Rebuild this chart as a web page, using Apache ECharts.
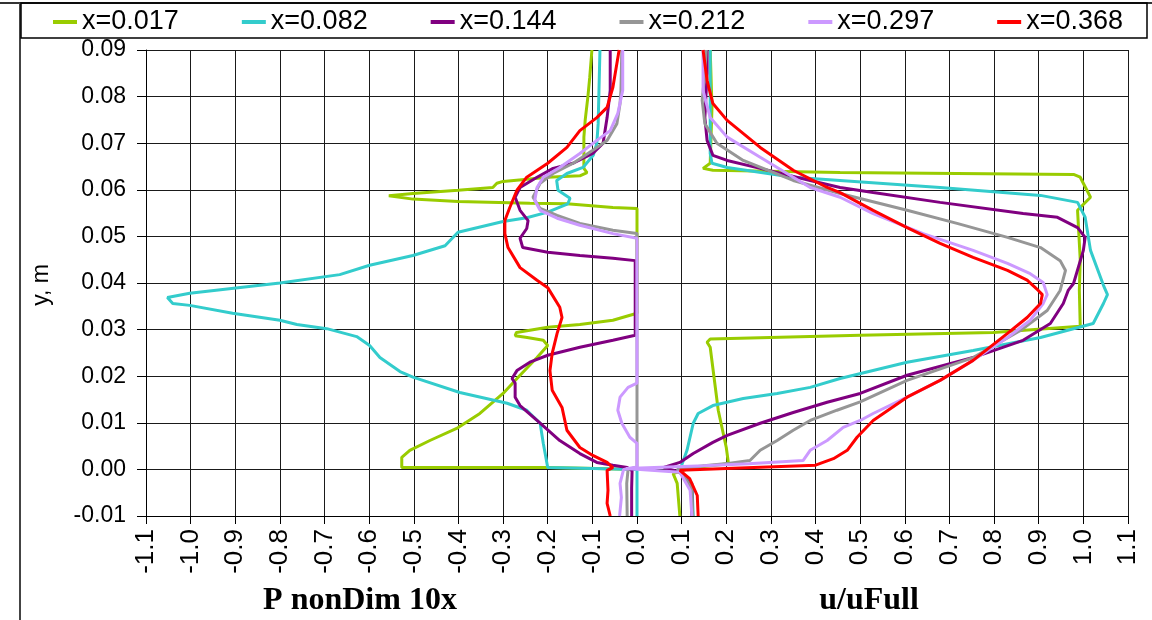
<!DOCTYPE html>
<html>
<head>
<meta charset="utf-8">
<script src="https://cdn.jsdelivr.net/npm/echarts@6/dist/echarts.min.js"></script>
<style>
html,body{margin:0;padding:0;background:#fff;}
#chart{width:1152px;height:620px;}
</style>
</head>
<body>
<div id="chart"></div>
<script>
// ---- data ----
var seriesNames = ['x=0.017','x=0.082','x=0.144','x=0.212','x=0.297','x=0.368'];
var seriesColors = ['#99CC00','#33CCCC','#800080','#969696','#CC99FF','#FF0000'];
var xTickLabels = ['-1.1','-1.0','-0.9','-0.8','-0.7','-0.6','-0.5','-0.4','-0.3','-0.2','-0.1','0.0','0.1','0.2','0.3','0.4','0.5','0.6','0.7','0.8','0.9','1.0','1.1'];
var yTickLabels = ['-0.01','0.00','0.01','0.02','0.03','0.04','0.05','0.06','0.07','0.08','0.09'];

// pressure branches [P nonDim 10x, y]
var p017 = [[-0.101,0.090],[-0.106,0.084],[-0.110,0.080],[-0.116,0.075],[-0.119,0.0713],[-0.119,0.0646],[-0.112,0.0637],[-0.128,0.063],[-0.200,0.0627],[-0.240,0.0623],[-0.300,0.0618],[-0.314,0.0614],[-0.323,0.0605],[-0.401,0.0599],[-0.502,0.0592],[-0.556,0.0587],[-0.502,0.058],[-0.401,0.0575],[-0.240,0.0571],[-0.157,0.057],[-0.054,0.0562],[0,0.056],[0,0.0335],[-0.054,0.032],[-0.128,0.0311],[-0.200,0.0305],[-0.270,0.0294],[-0.273,0.0287],[-0.246,0.0283],[-0.210,0.0277],[-0.200,0.0266],[-0.224,0.024],[-0.262,0.0202],[-0.300,0.0163],[-0.352,0.012],[-0.404,0.0088],[-0.464,0.0062],[-0.509,0.0041],[-0.527,0.0026],[-0.527,0.0004],[-0.200,0.0004],[-0.090,0.0002],[0,0]];
var p082 = [[-0.083,0.090],[-0.087,0.0742],[-0.090,0.070],[-0.098,0.0674],[-0.121,0.0648],[-0.157,0.0635],[-0.180,0.062],[-0.177,0.0599],[-0.150,0.0582],[-0.155,0.057],[-0.200,0.0552],[-0.247,0.054],[-0.300,0.0532],[-0.401,0.0509],[-0.430,0.048],[-0.502,0.0459],[-0.599,0.0438],[-0.666,0.0418],[-0.800,0.040],[-1.002,0.0378],[-1.052,0.0369],[-1.040,0.0356],[-1.002,0.0352],[-0.906,0.0335],[-0.800,0.032],[-0.762,0.0311],[-0.695,0.0302],[-0.628,0.0285],[-0.599,0.0266],[-0.576,0.024],[-0.531,0.021],[-0.502,0.0198],[-0.397,0.0165],[-0.291,0.0142],[-0.247,0.0127],[-0.217,0.0099],[-0.210,0.0056],[-0.200,0.0004],[-0.099,0.0002],[0,0],[0,-0.010]];
var p144 = [[-0.060,0.090],[-0.060,0.0813],[-0.067,0.0755],[-0.076,0.070],[-0.099,0.0678],[-0.143,0.0657],[-0.188,0.0646],[-0.224,0.0627],[-0.262,0.0605],[-0.273,0.0584],[-0.262,0.0556],[-0.244,0.0534],[-0.247,0.0517],[-0.262,0.0496],[-0.256,0.0476],[-0.200,0.0466],[-0.128,0.0459],[-0.054,0.0453],[-0.004,0.0448],[-0.004,0.0288],[-0.054,0.0277],[-0.128,0.0262],[-0.200,0.0245],[-0.240,0.023],[-0.269,0.0212],[-0.280,0.0195],[-0.273,0.0185],[-0.273,0.0155],[-0.262,0.0137],[-0.224,0.0105],[-0.173,0.0062],[-0.128,0.0034],[-0.090,0.0015],[-0.054,0.0009],[-0.022,0.0004],[-0.011,-0.0003],[-0.012,-0.004],[-0.012,-0.010]];
var p212 = [[-0.034,0.090],[-0.036,0.0813],[-0.038,0.0785],[-0.045,0.0742],[-0.067,0.0706],[-0.099,0.0685],[-0.143,0.0657],[-0.188,0.0635],[-0.217,0.0614],[-0.233,0.0584],[-0.217,0.056],[-0.179,0.0545],[-0.128,0.0528],[-0.054,0.0513],[0,0.0506],[0,0.0055],[0,0.0005],[-0.020,0],[-0.023,-0.003],[-0.022,-0.010]];
var p297 = [[-0.032,0.090],[-0.032,0.0813],[-0.043,0.0764],[-0.060,0.0727],[-0.090,0.0706],[-0.128,0.0678],[-0.173,0.0648],[-0.210,0.0627],[-0.224,0.0605],[-0.229,0.0577],[-0.217,0.0556],[-0.179,0.0539],[-0.128,0.0524],[-0.054,0.0506],[0,0.0496],[0,0.0185],[-0.020,0.0176],[-0.038,0.0155],[-0.043,0.0127],[-0.034,0.0099],[-0.016,0.0069],[0,0.0056],[0,0.0005],[-0.030,0],[-0.038,-0.003],[-0.035,-0.006],[-0.039,-0.010]];
var p368 = [[-0.040,0.090],[-0.054,0.082],[-0.067,0.0777],[-0.090,0.0755],[-0.128,0.0727],[-0.157,0.0691],[-0.200,0.0657],[-0.247,0.0627],[-0.269,0.0599],[-0.285,0.0562],[-0.296,0.0534],[-0.296,0.0506],[-0.289,0.0476],[-0.262,0.0433],[-0.224,0.0406],[-0.200,0.039],[-0.173,0.0348],[-0.168,0.0326],[-0.179,0.0292],[-0.190,0.0249],[-0.195,0.0212],[-0.190,0.017],[-0.168,0.0133],[-0.157,0.0084],[-0.128,0.0047],[-0.099,0.003],[-0.067,0.0015],[-0.054,0.0004],[-0.067,-0.0002],[-0.065,-0.0045],[-0.067,-0.0073],[-0.060,-0.010]];

// velocity branches [u/uFull, y]
var u017 = [[0.096,-0.010],[0.090,-0.003],[0.081,-0.0009],[0.120,0.0003],[0.205,0.0012],[0.200,0.0047],[0.182,0.0127],[0.164,0.0262],[0.157,0.0273],[0.164,0.028],[0.500,0.0288],[0.798,0.0294],[0.993,0.0307],[0.991,0.0384],[0.993,0.045],[0.987,0.0556],[1.016,0.0584],[0.993,0.0627],[0.978,0.0633],[0.455,0.0637],[0.170,0.0642],[0.148,0.0646],[0.164,0.0657],[0.168,0.0777],[0.164,0.090]];
var u082 = [[0.126,-0.010],[0.123,-0.003],[0.108,-0.0017],[0.096,-0.0002],[0.112,0.0041],[0.126,0.0099],[0.137,0.012],[0.170,0.0137],[0.238,0.0152],[0.314,0.0163],[0.388,0.0176],[0.455,0.0195],[0.605,0.023],[0.753,0.0255],[0.904,0.0283],[1.022,0.0313],[1.045,0.0356],[1.054,0.0375],[1.045,0.0395],[1.016,0.047],[1.004,0.0541],[0.987,0.0573],[0.904,0.0588],[0.679,0.0605],[0.455,0.062],[0.350,0.0627],[0.202,0.0648],[0.168,0.0657],[0.164,0.0678],[0.164,0.085],[0.164,0.090]];
var u144 = [[0.123,-0.010],[0.123,-0.0045],[0.112,-0.0024],[0.096,-0.0006],[0.060,0.0004],[0.096,0.0015],[0.126,0.0034],[0.170,0.0058],[0.202,0.0073],[0.276,0.0099],[0.350,0.0122],[0.426,0.0144],[0.500,0.0163],[0.605,0.0202],[0.753,0.024],[0.865,0.0277],[0.926,0.0313],[0.955,0.0356],[0.966,0.0384],[0.978,0.0399],[1.000,0.047],[1.004,0.0498],[0.987,0.0519],[0.942,0.0541],[0.865,0.0549],[0.679,0.0573],[0.529,0.0594],[0.455,0.0605],[0.388,0.062],[0.276,0.0646],[0.202,0.0663],[0.170,0.0674],[0.157,0.0706],[0.152,0.0755],[0.157,0.085],[0.157,0.090]];
var u212 = [[0.125,-0.010],[0.122,-0.004],[0.105,-0.0015],[0.090,0.0001],[0.150,0.0008],[0.208,0.0013],[0.253,0.0019],[0.276,0.0041],[0.314,0.0062],[0.350,0.0084],[0.388,0.0105],[0.448,0.0127],[0.500,0.0145],[0.605,0.0191],[0.753,0.024],[0.859,0.0298],[0.919,0.0341],[0.948,0.0384],[0.960,0.0427],[0.948,0.0448],[0.904,0.0476],[0.830,0.0498],[0.717,0.0528],[0.605,0.0556],[0.455,0.0592],[0.350,0.062],[0.238,0.0663],[0.179,0.070],[0.152,0.0742],[0.146,0.0792],[0.152,0.085],[0.155,0.090]];
var u297 = [[0.123,-0.010],[0.119,-0.0045],[0.096,-0.0006],[-0.025,0.0002],[0.150,0.0008],[0.250,0.0012],[0.372,0.0019],[0.388,0.0041],[0.426,0.0062],[0.462,0.009],[0.500,0.0105],[0.529,0.012],[0.605,0.0155],[0.679,0.0191],[0.753,0.0234],[0.830,0.0283],[0.881,0.032],[0.910,0.0356],[0.919,0.0375],[0.910,0.0401],[0.881,0.042],[0.830,0.0442],[0.753,0.047],[0.641,0.0506],[0.529,0.0549],[0.455,0.0584],[0.388,0.0605],[0.276,0.067],[0.202,0.0713],[0.164,0.0755],[0.148,0.0813],[0.148,0.090]];
var u368 = [[0.137,-0.010],[0.135,-0.0056],[0.118,-0.002],[0.096,-0.0002],[0.200,0.0002],[0.400,0.0009],[0.440,0.0023],[0.471,0.0041],[0.493,0.0069],[0.529,0.0105],[0.605,0.0155],[0.679,0.0191],[0.753,0.0234],[0.830,0.0292],[0.874,0.0326],[0.904,0.0356],[0.908,0.0375],[0.899,0.0384],[0.874,0.0406],[0.830,0.0427],[0.753,0.0455],[0.679,0.0485],[0.605,0.0519],[0.529,0.0556],[0.455,0.0594],[0.426,0.0605],[0.350,0.0642],[0.276,0.0691],[0.202,0.0749],[0.170,0.0785],[0.157,0.0835],[0.148,0.090]];

var pressureData = [p017,p082,p144,p212,p297,p368];
var velocityData = [u017,u082,u144,u212,u297,u368];

// ---- chart ----
var chart = echarts.init(document.getElementById('chart'), null, {renderer:'canvas'});
var series = [];
for (var i = 0; i < seriesNames.length; i++) {
  [pressureData[i], velocityData[i]].forEach(function(d){
    series.push({
      name: seriesNames[i], type: 'line', data: d,
      showSymbol: false, symbol: 'none', smooth: false,
      lineStyle: {color: seriesColors[i], width: 3},
      itemStyle: {color: seriesColors[i]},
      animation: false, clip: true
    });
  });
}
var sans = 'Liberation Sans, Arial, sans-serif';
var serif = 'Liberation Serif, Times New Roman, serif';
var option = {
  backgroundColor: '#fff',
  animation: false,
  grid: {left: 146, right: 24, top: 50, bottom: 104, containLabel: false},
  legend: {
    data: seriesNames, left: 53, top: 8, padding: 0,
    icon: 'rect', itemWidth: 24, itemHeight: 4, itemGap: 63,
    textStyle: {fontFamily: sans, fontSize: 27, color: '#000', lineHeight: 28},
    selectedMode: false
  },
  xAxis: {
    type: 'value', min: -1.1, max: 1.1, interval: 0.1,
    axisLine: {show: true, onZero: false, lineStyle: {color: '#000', width: 1}},
    axisTick: {show: true, length: 8, lineStyle: {color: '#000'}},
    axisLabel: {rotate: 90, margin: 13, fontFamily: sans, fontSize: 26, color: '#000',
      formatter: function(v){ return xTickLabels[Math.round((v + 1.1) / 0.1)]; }},
    splitLine: {show: true, lineStyle: {color: '#1a1a1a', width: 1}}
  },
  yAxis: {
    type: 'value', min: -0.01, max: 0.09, interval: 0.01,
    axisLine: {show: true, onZero: false, lineStyle: {color: '#000', width: 1}},
    axisTick: {show: true, length: 9, lineStyle: {color: '#000'}},
    axisLabel: {margin: 20, fontFamily: sans, fontSize: 23, color: '#000',
      formatter: function(v){ return yTickLabels[Math.round((v + 0.01) / 0.01)]; }},
    splitLine: {show: true, lineStyle: {color: '#1a1a1a', width: 1}}
  },
  graphic: [
    {type: 'line', shape: {x1: 0, y1: 3, x2: 1152, y2: 3}, style: {stroke: '#333', lineWidth: 2}, z: 100},
    {type: 'line', shape: {x1: 20, y1: 3, x2: 20, y2: 620}, style: {stroke: '#444', lineWidth: 2}, z: 100},
    {type: 'rect', shape: {x: 21, y: 3, width: 1126, height: 35}, style: {fill: 'none', stroke: '#000', lineWidth: 1.5}, z: 100},
    {type: 'text', x: 42, y: 285, rotation: Math.PI / 2,
      style: {text: 'y, m', fontFamily: sans, fontSize: 23, fill: '#000', textAlign: 'center', textVerticalAlign: 'middle'}},
    {type: 'text', x: 360, y: 601,
      style: {text: 'P nonDim 10x', fontFamily: serif, fontWeight: 'bold', fontSize: 32, fill: '#000', textAlign: 'center', textVerticalAlign: 'middle'}},
    {type: 'text', x: 869, y: 601,
      style: {text: 'u/uFull', fontFamily: serif, fontWeight: 'bold', fontSize: 32, fill: '#000', textAlign: 'center', textVerticalAlign: 'middle'}}
  ],
  series: series
};
chart.setOption(option);
</script>
</body>
</html>
